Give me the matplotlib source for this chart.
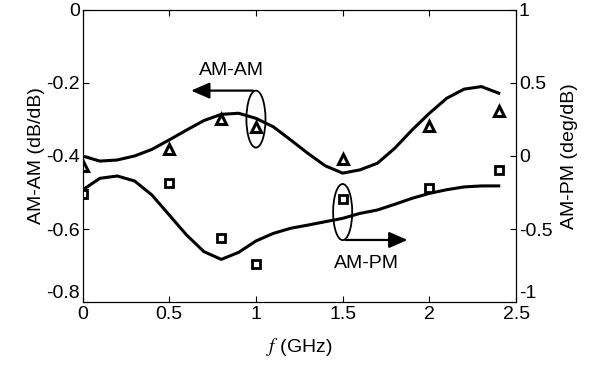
import matplotlib
matplotlib.use("Agg")
import matplotlib.pyplot as plt
from matplotlib.patches import Ellipse

plt.rcParams['font.family'] = ['Liberation Sans', 'DejaVu Sans']
plt.rcParams['mathtext.fontset'] = 'stix'
plt.rcParams['font.size'] = 14

# measured points (markers)
f_meas = [0, 0.5, 0.8, 1.0, 1.5, 2.0, 2.4]
amam_meas = [-0.427, -0.381, -0.299, -0.322, -0.408, -0.317, -0.277]
ampm_meas = [-0.260, -0.187, -0.559, -0.737, -0.297, -0.217, -0.096]

# simulated curves (read at 0.1 GHz steps)
f_sim = [0.0, 0.1, 0.2, 0.3, 0.4, 0.5, 0.6, 0.7, 0.8, 0.9, 1.0, 1.1,
         1.2, 1.3, 1.4, 1.5, 1.6, 1.7, 1.8, 1.9, 2.0, 2.1, 2.2, 2.3, 2.4]
amam_sim = [-0.400, -0.414, -0.411, -0.400, -0.382, -0.356, -0.329, -0.303,
            -0.286, -0.283, -0.297, -0.320, -0.356, -0.393, -0.427, -0.447,
            -0.438, -0.420, -0.379, -0.329, -0.283, -0.242, -0.217, -0.210,
            -0.228]
ampm_sim = [-0.233, -0.153, -0.137, -0.171, -0.267, -0.404, -0.541, -0.655,
            -0.708, -0.660, -0.582, -0.530, -0.495, -0.473, -0.450, -0.427,
            -0.393, -0.370, -0.331, -0.290, -0.256, -0.231, -0.212, -0.205,
            -0.205]

fig = plt.figure(figsize=(5.98, 3.67), dpi=100)
ax1 = fig.add_axes([0.138, 0.177, 0.725, 0.796])
ax2 = ax1.twinx()

ax1.plot(f_sim, amam_sim, color='black', lw=2.2)
ax1.plot(f_meas, amam_meas, linestyle='none', marker='^', ms=7,
         mfc='white', mec='black', mew=2.2)
ax2.plot(f_sim, ampm_sim, color='black', lw=2.2)
ax2.plot(f_meas, ampm_meas, linestyle='none', marker='s', ms=6,
         mfc='white', mec='black', mew=2.0)

ax1.set_xlim(0, 2.5)
ax1.set_ylim(-0.8, 0)
ax2.set_ylim(-1, 1)
ax1.set_xticks([0, 0.5, 1, 1.5, 2, 2.5])
ax1.set_xticklabels(['0', '0.5', '1', '1.5', '2', '2.5'])
ax1.set_yticks([-0.8, -0.6, -0.4, -0.2, 0])
ax1.set_yticklabels(['-0.8', '-0.6', '-0.4', '-0.2', '0'])
ax2.set_yticks([-1, -0.5, 0, 0.5, 1])
ax2.set_yticklabels(['-1', '-0.5', '0', '0.5', '1'])

ax1.tick_params(axis='x', direction='in', top=True, length=4, pad=3)
ax1.tick_params(axis='y', direction='in', length=4, pad=2)
ax2.tick_params(axis='y', direction='in', length=4, pad=2)

# matlab puts the lowest y labels a bit higher
ax1.get_yticklabels()[0].set_va('bottom')
ax2.get_yticklabels()[0].set_va('bottom')

ax1.set_xlabel(r'$f$ (GHz)', labelpad=9)
ax1.set_ylabel('AM-AM (dB/dB)', labelpad=1)
ax2.set_ylabel('AM-PM (deg/dB)', labelpad=6)

# AM-AM marker ellipse + arrow
ax1.add_patch(Ellipse((1.0, -0.299), 0.11, 0.156, fill=False, ec='black', lw=1.3))
ax1.annotate('', xy=(0.61, -0.221), xytext=(1.0, -0.221),
             arrowprops=dict(arrowstyle='-|>,head_length=0.8,head_width=0.35',
                             color='black', lw=1.6))
ax1.text(0.86, -0.167, 'AM-AM', ha='center', va='center')

# AM-PM marker ellipse + arrow
ax2.add_patch(Ellipse((1.5, -0.384), 0.11, 0.384, fill=False, ec='black', lw=1.3))
ax2.annotate('', xy=(1.89, -0.575), xytext=(1.5, -0.575),
             arrowprops=dict(arrowstyle='-|>,head_length=0.8,head_width=0.35',
                             color='black', lw=1.6))
ax2.text(1.64, -0.735, 'AM-PM', ha='center', va='center')

fig.savefig('out.png', dpi=100)
